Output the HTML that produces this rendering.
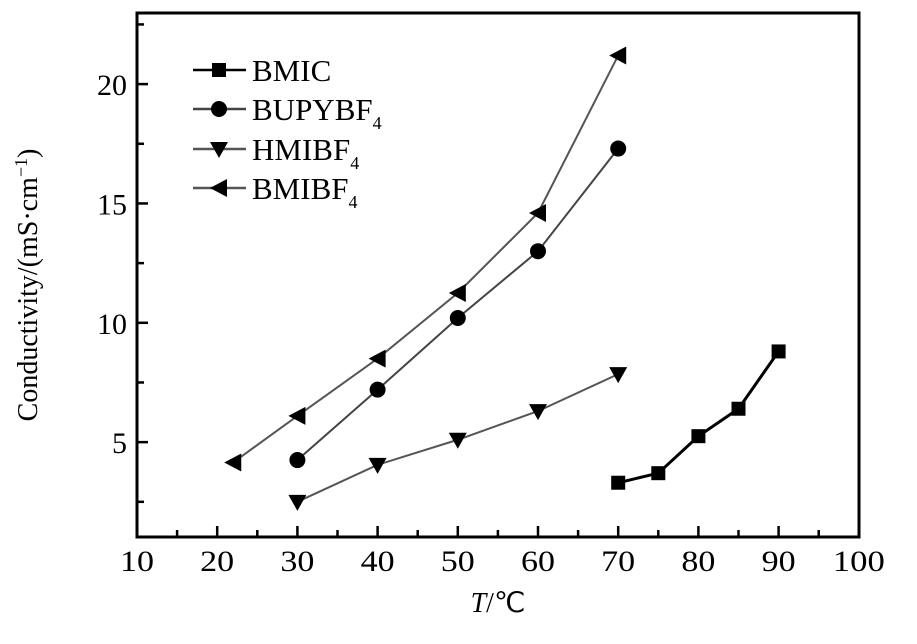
<!DOCTYPE html>
<html><head><meta charset="utf-8"><style>
body{margin:0;background:#fff}
text{font-family:"Liberation Serif",serif;fill:#000}
</style></head><body>
<svg id="c" width="917" height="639" xmlns="http://www.w3.org/2000/svg"></svg>
<script>
const xTicks=[10,20,30,40,50,60,70,80,90,100];
const yTicks=[5,10,15,20];
const seriesNames=["BMIC","BUPYBF","HMIBF","BMIBF"];
const bmicX=[70,75,80,85,90];
const bmicY=[3.3,3.7,5.25,6.4,8.8];
const bupyX=[30,40,50,60,70];
const bupyY=[4.25,7.2,10.2,13.0,17.3];
const hmiX=[30,40,50,60,70];
const hmiY=[2.5,4.05,5.1,6.3,7.85];
const bmiX=[22,30,40,50,60,70];
const bmiY=[4.15,6.1,8.5,11.25,14.6,21.2];
const NS="http://www.w3.org/2000/svg";
const svg=document.getElementById('c');
const L=137,R=859,T=13,B=537;
function sx(v){return L+(v-10)*8.02;}
function sy(v){return 561.5-v*23.87;}
function mk(tag,at,parent){const e=document.createElementNS(NS,tag);for(const k in at)e.setAttribute(k,at[k]);(parent||svg).appendChild(e);return e;}
let f=mk('rect',{x:L,y:T,width:R-L,height:B-T,fill:'none',stroke:'#000','stroke-width':3});


for(let v=10;v<=100;v+=5){const x=sx(v);const len=(v%10===0)?11:7;
 let t=mk('line',{x1:x,x2:x,y1:B,y2:B-len,stroke:'#000','stroke-width':2.5});
 
 }
xTicks.forEach(v=>{let t=mk('text',{x:sx(v),y:571,'text-anchor':'middle','font-size':30,textLength:v===100?52:34,lengthAdjust:'spacingAndGlyphs'});t.textContent=v;
 
 });
for(let v=2.5;v<=22.5;v+=2.5){const y=sy(v);const len=(v%5===0)?11:7;
 let t=mk('line',{x1:L,x2:L+len,y1:y,y2:y,stroke:'#000','stroke-width':2.5});
 
 }
yTicks.forEach(v=>{let t=mk('text',{x:127,y:sy(v)+11,'text-anchor':'end','font-size':30});t.textContent=v;
 
 });
let xt=mk('text',{x:498,y:612,'text-anchor':'middle','font-size':28});
xt.innerHTML='<tspan font-style="italic">T</tspan>/℃';


let yt=mk('text',{x:0,y:0,'text-anchor':'middle','font-size':28,transform:'translate(37,285) rotate(-90)'});
yt.innerHTML='Conductivity/(mS·cm<tspan dy="-10" font-size="18">−1</tspan><tspan dy="10">)</tspan>';


function marker(type,x,y,g){
 if(type===0)return mk('rect',{x:x-7,y:y-7,width:14,height:14,fill:'#000'},g);
 if(type===1)return mk('circle',{cx:x,cy:y,r:8,fill:'#000'},g);
 if(type===2)return mk('polygon',{points:`${x-9},${y-7} ${x+9},${y-7} ${x},${y+9}`,fill:'#000'},g);
 return mk('polygon',{points:`${x-9},${y} ${x+8},${y-9} ${x+8},${y+9}`,fill:'#000'},g);
}
const allX=[bmicX,bupyX,hmiX,bmiX],allY=[bmicY,bupyY,hmiY,bmiY];
const colors=['#000','#444','#555','#555'],widths=[3,2,2,2];
allX.forEach((xs,i)=>{
 const g=mk('g',{});
 
 
 mk('polyline',{points:xs.map((x,j)=>sx(x)+','+sy(allY[i][j])).join(' '),fill:'none',stroke:colors[i],'stroke-width':widths[i]},g);
 xs.forEach((x,j)=>{const m=marker(i,sx(x),sy(allY[i][j]),g);
  
  });
});
const lg=mk('g',{});


const ly=[70,109,149,188];
seriesNames.forEach((n,i)=>{
 const g=mk('g',{},lg);
 
 
 mk('line',{x1:193,x2:246,y1:ly[i],y2:ly[i],stroke:colors[i],'stroke-width':2.5},g);
 marker(i,219,ly[i],g);
 const t=mk('text',{x:252,y:ly[i]+11,'font-size':31},g);
 t.innerHTML=i===0?n:n+'<tspan dy="9" font-size="18">4</tspan>';
});
</script>
</body></html>
